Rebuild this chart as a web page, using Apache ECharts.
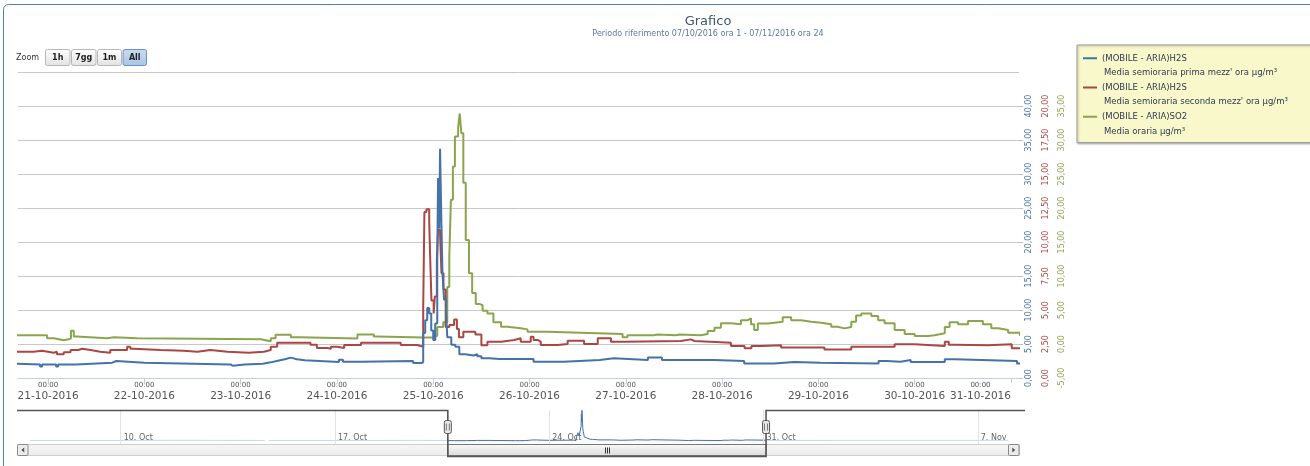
<!DOCTYPE html>
<html><head><meta charset="utf-8">
<script src="https://cdn.jsdelivr.net/npm/echarts@6/dist/echarts.min.js"></script>
<style>html,body{margin:0;padding:0;background:#fff}#c{width:1310px;height:466px}</style>
</head><body><div id="c"></div>
<script>
// Data: [hours since 21-10-2016 00:00, value]
const h2sFirst = [
  [-335, 2.2], [-262, 2.4], [-240, 2.2], [-151, null], [-148, 2.2], [-135, 3.0], [-134.5, 2.2], [-60, 2.3], [-30, 2.1],
  [-8, 2.0], [-2, 1.7], [-1.5, 2.0], [2, 1.7], [2.5, 2.0], [7, 2.25], [16, 2.5], [17, 2.25], [24, 2.0], [45.5, 1.8], [46, 2.0],
  [49, 2.1], [53.5, 2.3], [55.5, 2.5], [57, 2.75], [59, 3.0], [60.5, 2.75], [62, 2.6], [64, 2.35], [72.5, 2.7], [73.5, 2.4],
  [78, 2.5], [91, 2.2], [93, 2.3],
  [93.5, 6.6], [94, 8.5], [94.5, 10.3], [95, 9.5], [95.5, 7.0], [96, 5.6], [96.5, 8.0], [97, 17.0], [97.2, 29.4], [97.5, 22.0],
  [97.7, 33.7], [98, 23.7], [98.3, 15.4], [98.7, 11.5], [99.2, 9.5], [99.5, 6.0], [100.5, 4.9], [101.5, 4.6], [102.5, 3.5],
  [104, 3.3], [106, 3.5], [107, 3.2], [108, 2.9], [110, 2.8],
  [112.5, 2.8], [121, 2.4], [128.5, 2.65], [137.5, 2.9], [141, 2.65], [149.5, 3.0], [153, 2.65], [166, 2.5], [173.5, 2.15],
  [181, 2.35], [186, 2.25], [192.5, 2.15], [207, 2.5], [209, 2.4], [212.5, 2.65], [215, 2.35], [223.5, 2.75], [226, 2.5],
  [241.5, 2.15], [246, 2.3], [300, 2.3], [432, 2.3]
];
const h2sSecond = [
  [-8, 1.93], [-3.6, 2.0], [-1.5, 1.86], [1.4, 1.93], [2.2, 1.74], [3.9, 1.9], [5.6, 2.06], [7.5, 2.15], [8.5, 2.06],
  [10.6, 1.93], [13, 1.86], [15.5, 2.06], [19.7, 2.3], [20.5, 2.15], [21.4, 2.06], [28, 2.0], [33.8, 1.93], [37.2, 2.06],
  [40.5, 1.93], [44.7, 1.86], [50, 1.93], [53.8, 2.06], [55.5, 2.3], [57.1, 2.6], [65.4, 2.45], [67, 2.2], [69.6, 2.15],
  [70.5, 2.3], [72, 2.2], [73.8, 2.43], [78, 2.6], [87.9, 2.43], [92, 2.3],
  [93.5, 5.2], [93.8, 12.2], [94.3, 12.4], [95, 11.5], [95.2, 9.2], [95.55, 5.7], [96.1, 4.75], [96.4, 6.0], [96.9, 8.7],
  [97.2, 10.9], [97.7, 10.6], [98.05, 7.7], [98.55, 6.5], [99.1, 3.75], [100, 3.9], [101.2, 4.3], [101.9, 3.6], [102.4, 3.0],
  [103.5, 3.4], [104.9, 3.4], [106.5, 3.2], [108, 2.4], [109.5, 2.67],
  [112.9, 2.8], [116.2, 2.92], [117.8, 2.67], [120.3, 3.04], [121, 2.8], [122, 2.67], [122.8, 2.43], [127, 2.5], [129.5, 2.74],
  [133.6, 2.5], [137, 2.92], [140.3, 2.67], [143.6, 2.72], [157.7, 2.84], [160.2, 2.72], [161.1, 2.6], [170.2, 2.35],
  [173.6, 2.18], [175.3, 2.35], [177.8, 2.4], [182.7, 2.25], [193.5, 2.1], [200.2, 2.3], [211, 2.48], [216, 2.35],
  [223.5, 2.67], [224.5, 2.45], [226, 2.4], [234.3, 2.48], [240.2, 2.18], [243, 2.18]
];
const so2 = [
  [-8, 1.28], [-1.1, 1.28], [-0.25, 0.84], [1.4, 0.55], [3.9, 0.69], [5.1, 0.84], [5.7, 1.95], [6.4, 1.1], [7.2, 0.84],
  [14.7, 0.98], [16.4, 0.84], [22.2, 0.69], [53, 0.4], [55.5, 0.84], [56.7, 1.37], [60.5, 0.98], [63, 0.8], [77.1, 1.4],
  [81.2, 1.1], [82.1, 0.95], [93.7, 0.95],
  [95.5, 1.0], [96, 1.2], [97, 2.5], [98.5, 3.2], [99.5, 8.4], [100, 12.8], [100.4, 21.2], [100.9, 26.1], [101.4, 30.5],
  [102.2, 31.8], [102.6, 33.9], [103, 31.0], [103.5, 23.7], [104.1, 15.3], [104.9, 10.4], [105.7, 7.5], [106.6, 5.9],
  [107.5, 5.7], [108.3, 4.9], [109.5, 4.5], [111, 3.2],
  [112.9, 2.55], [114.5, 2.3], [117.8, 2.15], [119.5, 1.8], [124.5, 1.66], [132.8, 1.47], [143.2, 0.98], [144.4, 1.28],
  [151, 1.4], [151.9, 1.28], [156.5, 1.4], [157.3, 1.28], [162.7, 1.47], [164.4, 1.9], [166.1, 2.4], [167.7, 3.04],
  [170.2, 2.9], [172.7, 3.5], [174.4, 3.77], [175.2, 2.9], [176, 2.06], [176.9, 3.0], [179.4, 3.13], [181.1, 3.28],
  [183.1, 3.92], [185.2, 3.5], [187.7, 3.28], [190.2, 3.13], [192.7, 2.9], [195.2, 2.55], [196.8, 2.3], [198.5, 2.5],
  [200.2, 3.28], [201.4, 4.2], [202.7, 4.5], [205.2, 4.1], [206.9, 3.5], [208.5, 3.04], [211, 2.06], [213.5, 1.47],
  [216, 1.17], [219.3, 1.28], [221, 1.57], [223.5, 2.5], [224.7, 3.2], [226.8, 2.9], [229.3, 3.4], [231.8, 3.4], [233, 2.9],
  [235.1, 2.3], [236.8, 2.06], [239.3, 1.66], [242.2, 1.3], [243, 1.3]
];
const seriesTitles = ['(MOBILE - ARIA)H2S', '(MOBILE - ARIA)H2S', '(MOBILE - ARIA)SO2'];
const seriesSubtitles = ["Media semioraria prima mezz' ora µg/m³", "Media semioraria seconda mezz' ora µg/m³", 'Media oraria µg/m³'];
const seriesColors = ['#4572A7', '#AA4643', '#89A54E'];
const dayTickDays = [21, 22, 23, 24, 25, 26, 27, 28, 29, 30, 31];          // October 2016, 00:00
const navTickDates = [[9, 10], [9, 17], [9, 24], [9, 31], [10, 7]];       // [month index, day]
const monthNames = ['Jan','Feb','Mar','Apr','May','Jun','Jul','Aug','Sep','Oct','Nov','Dec'];
const zoomButtons = ['1h', '7gg', '1m', 'All'];
const viewStartHour = -7.5, viewEndHour = 242;                             // hours from 21-10-2016
const axisRanges = [[0, 45, 5], [0, 22.5, 2.5], [-5, 40, 5]];

const FONT = 'DejaVu Sans';
const ts = h => new Date(2016, 9, 21, 0, Math.round(h * 60)).getTime();
const toSeries = arr => arr.map(([h, v]) => [ts(h), v == null ? '-' : v]);
const xMin = ts(viewStartHour), xMax = ts(viewEndHour);
const navMin = new Date(2016, 9, 6, 15, 30).getTime();
const navMax = new Date(2016, 10, 8, 8, 20).getTime();
const dayTicks = dayTickDays.map(d => new Date(2016, 9, d).getTime());
const navTicks = navTickDates.map(([m, d]) => new Date(2016, m, d).getTime());
const names = seriesTitles.map((t, i) => t + '\n' + seriesSubtitles[i]);
const p2 = n => String(n).padStart(2, '0');
const fmtNum = v => v.toFixed(2).replace('.', ',');

const chart = echarts.init(document.getElementById('c'));

function yAx(i, offset) {
  const [min, max, interval] = axisRanges[i];
  const main = i === 0;
  return {
    type: 'value', gridIndex: 0, position: 'right', offset, min, max, interval,
    axisLine: { show: false },
    axisTick: { show: main, length: 4, lineStyle: { color: '#C0C0C0' } },
    splitLine: { show: main, showMinLine: false, lineStyle: { color: '#C8C8C8', width: 1 } },
    axisLabel: { rotate: 90, margin: 6, color: seriesColors[i], fontSize: 8, fontFamily: FONT,
      formatter: fmtNum, showMaxLabel: false, showMinLabel: true }
  };
}

const iconPath = 'path://M0,0L0.01,0L0,0.01Z M0,6.3L14,6.3L14,8.3L0,8.3Z M14,29.2L13.99,29.2L14,29.19Z';

const mainSeries = [h2sFirst, h2sSecond, so2].map((d, i) => ({
  name: names[i], type: 'line', xAxisIndex: 0, yAxisIndex: i, step: 'end', symbol: 'none',
  data: toSeries(d), color: seriesColors[i], lineStyle: { width: 2, color: seriesColors[i] },
  clip: true, animation: false, z: 3 + (2 - i)
}));

chart.setOption({
  animation: false,
  backgroundColor: '#fff',
  textStyle: { fontFamily: FONT },
  title: {
    text: 'Grafico', subtext: 'Periodo riferimento 07/10/2016 ora 1 - 07/11/2016 ora 24',
    left: 703, top: 10, textAlign: 'center', itemGap: 2,
    textStyle: { fontSize: 13, fontWeight: 'normal', color: '#3E576F', fontFamily: FONT },
    subtextStyle: { fontSize: 8, color: '#5A7A9E', fontFamily: FONT }
  },
  legend: {
    data: names, orient: 'vertical', left: 1077, top: 45, itemGap: 0, itemWidth: 14, itemHeight: 29.2,
    icon: iconPath, padding: [6, 24, 4, 6], backgroundColor: '#F8F8CA', borderColor: '#999', borderWidth: 1,
    borderRadius: 0, selectedMode: false, itemStyle: { borderWidth: 0 },
    shadowColor: 'rgba(0,0,0,0.25)', shadowBlur: 2, shadowOffsetX: 1, shadowOffsetY: 1,
    formatter: n => { const [a, b] = n.split('\n'); return '{t|' + a + '}\n{s|' + b + '}'; },
    textStyle: { rich: {
      t: { fontSize: 8.5, lineHeight: 14.6, color: '#2E3B4E', fontFamily: FONT },
      s: { fontSize: 8.5, lineHeight: 14.6, color: '#2E3B4E', fontFamily: FONT, padding: [0, 0, 0, 2] }
    } }
  },
  grid: [
    { left: 18, right: 291, top: 72, bottom: 88, outerBoundsMode: 'none', containLabel: false },
    { left: 18, right: 291, top: 410, height: 34, outerBoundsMode: 'none', containLabel: false }
  ],
  xAxis: [
    { type: 'value', gridIndex: 0, min: xMin, max: xMax, scale: true,
      axisLine: { show: true, lineStyle: { color: '#C0D0E0', width: 1 } },
      axisTick: { show: true, length: 5, customValues: dayTicks, lineStyle: { color: '#C0D0E0' } },
      splitLine: { show: false },
      axisLabel: { customValues: dayTicks, margin: 3, color: '#666', alignMinLabel: 'center', alignMaxLabel: 'right',
        hideOverlap: false,
        formatter: v => { const d = new Date(v);
          return '{t|' + p2(d.getHours()) + ':' + p2(d.getMinutes()) + '}\n{d|' + p2(d.getDate()) + '-' + p2(d.getMonth() + 1) + '-' + d.getFullYear() + '}'; },
        rich: { t: { fontSize: 7, lineHeight: 9, align: 'center', color: '#555', fontFamily: FONT },
                d: { fontSize: 10.5, lineHeight: 12, align: 'center', color: '#555', fontFamily: FONT } } } },
    { type: 'value', gridIndex: 1, min: navMin, max: navMax, scale: true, z: 10,
      axisLine: { show: false },
      axisTick: { show: false, customValues: navTicks },
      splitLine: { show: true, lineStyle: { color: '#E2E2E2', width: 1 } },
      axisLabel: { customValues: navTicks, inside: true, margin: 2, align: 'left', padding: [0, 0, 0, 3],
        fontSize: 8, color: '#666', fontFamily: FONT, hideOverlap: false,
        formatter: v => { const d = new Date(v); return d.getDate() + '. ' + monthNames[d.getMonth()]; } } }
  ],
  yAxis: [yAx(0, 0), yAx(1, 17), yAx(2, 33),
    { type: 'value', gridIndex: 1, min: -1.5, max: 34, show: false }],
  series: mainSeries.concat([{
    name: 'navigator', type: 'line', xAxisIndex: 1, yAxisIndex: 3, step: 'end', symbol: 'none',
    data: toSeries(h2sFirst), lineStyle: { width: 1, color: seriesColors[0] },
    areaStyle: { color: 'rgba(69,114,167,0.06)' }, color: seriesColors[0], z: 2
  }])
});

// navigator decorations placed from the axis scale
const hx1 = chart.convertToPixel({ xAxisIndex: 1 }, xMin);
const hx2 = chart.convertToPixel({ xAxisIndex: 1 }, xMax);
const navL = chart.convertToPixel({ xAxisIndex: 1 }, navMin);
const navR = chart.convertToPixel({ xAxisIndex: 1 }, navMax);
const navTop = 410, navBot = 444, sbBot = 456;
const g = [];
g.push({ type: 'rect', shape: { x: 3.5, y: 4.5, width: 1400, height: 600, r: 5 }, style: { fill: 'none', stroke: '#4F81BD', lineWidth: 1 }, z: 1 });
g.push({ type: 'text', style: { x: 16, y: 57.5, text: 'Zoom', fontSize: 8, fill: '#333', fontFamily: FONT, verticalAlign: 'middle' }, z: 20 });
const bx = [45.5, 71.5, 97.5, 123];
const bw = [24.5, 24.5, 24, 23.5];
zoomButtons.forEach((t, i) => {
  const sel = i === zoomButtons.length - 1;
  g.push({ type: 'rect', shape: { x: bx[i], y: 49.5, width: bw[i], height: 16, r: 2 },
    style: { fill: sel ? new echarts.graphic.LinearGradient(0, 0, 0, 1, [{ offset: 0, color: '#c8dcf0' }, { offset: 1, color: '#a9c4e4' }])
                      : new echarts.graphic.LinearGradient(0, 0, 0, 1, [{ offset: 0, color: '#ffffff' }, { offset: 1, color: '#e2e2e2' }]),
             stroke: sel ? '#7090c0' : '#b8b8b8', lineWidth: 1 }, z: 20 });
  g.push({ type: 'text', style: { x: bx[i] + bw[i] / 2, y: 57.5, text: t, fontSize: 8, fontWeight: 'bold', fill: '#222', fontFamily: FONT, align: 'center', verticalAlign: 'middle' }, z: 21 });
});
g.push({ type: 'rect', shape: { x: navL, y: navTop, width: hx1 - navL, height: navBot - navTop }, style: { fill: 'rgba(255,255,255,0.72)' }, z: 5 });
g.push({ type: 'rect', shape: { x: hx2, y: navTop, width: navR - hx2, height: navBot - navTop }, style: { fill: 'rgba(255,255,255,0.72)' }, z: 5 });
g.push({ type: 'rect', shape: { x: 17.5, y: navBot + 0.5, width: 1002, height: sbBot - navBot - 1 },
  style: { fill: new echarts.graphic.LinearGradient(0, 0, 0, 1, [{ offset: 0, color: '#f6f6f6' }, { offset: 1, color: '#ececec' }]), stroke: '#cfcfcf', lineWidth: 1 }, z: 6 });
g.push({ type: 'rect', shape: { x: hx1, y: navBot + 0.5, width: hx2 - hx1, height: sbBot - navBot - 1 },
  style: { fill: new echarts.graphic.LinearGradient(0, 0, 0, 1, [{ offset: 0, color: '#fafafa' }, { offset: 1, color: '#dadada' }]), stroke: '#777', lineWidth: 1 }, z: 7 });
const mid = Math.round((hx1 + hx2) / 2) + 0.5;
[-2, 0, 2].forEach(d => g.push({ type: 'line', shape: { x1: mid + d, y1: 447.5, x2: mid + d, y2: 453.5 }, style: { stroke: '#333', lineWidth: 1 }, z: 8 }));
[[17.5, -1], [1008.5, 1]].forEach(([x, dir]) => {
  g.push({ type: 'rect', shape: { x, y: navBot + 0.5, width: 10.5, height: sbBot - navBot - 1, r: 1 },
    style: { fill: '#ececec', stroke: '#888', lineWidth: 1 }, z: 8 });
  const cx = x + 5.25, cy = (navBot + sbBot) / 2;
  g.push({ type: 'polygon', shape: { points: [[cx + 1.5 * dir, cy], [cx - 1.5 * dir, cy - 2.5], [cx - 1.5 * dir, cy + 2.5]] }, style: { fill: '#555' }, z: 9 });
});
g.push({ type: 'polyline', shape: { points: [[17, navTop + 0.5], [hx1, navTop + 0.5], [hx1, sbBot + 0.5], [hx2, sbBot + 0.5], [hx2, navTop + 0.5], [1025, navTop + 0.5]] },
  style: { stroke: '#555', lineWidth: 1.6, fill: 'none' }, z: 11 });
[hx1, hx2].forEach(x => {
  g.push({ type: 'rect', shape: { x: x - 3.5, y: 420.5, width: 7, height: 13, r: 2 }, style: { fill: '#ebe7e8', stroke: '#555', lineWidth: 1 }, z: 12 });
  [-1, 1].forEach(d => g.push({ type: 'line', shape: { x1: x + 1.5 * d, y1: 423.5, x2: x + 1.5 * d, y2: 430.5 }, style: { stroke: '#777', lineWidth: 1 }, z: 13 }));
});
chart.setOption({ graphic: g });
</script></body></html>
